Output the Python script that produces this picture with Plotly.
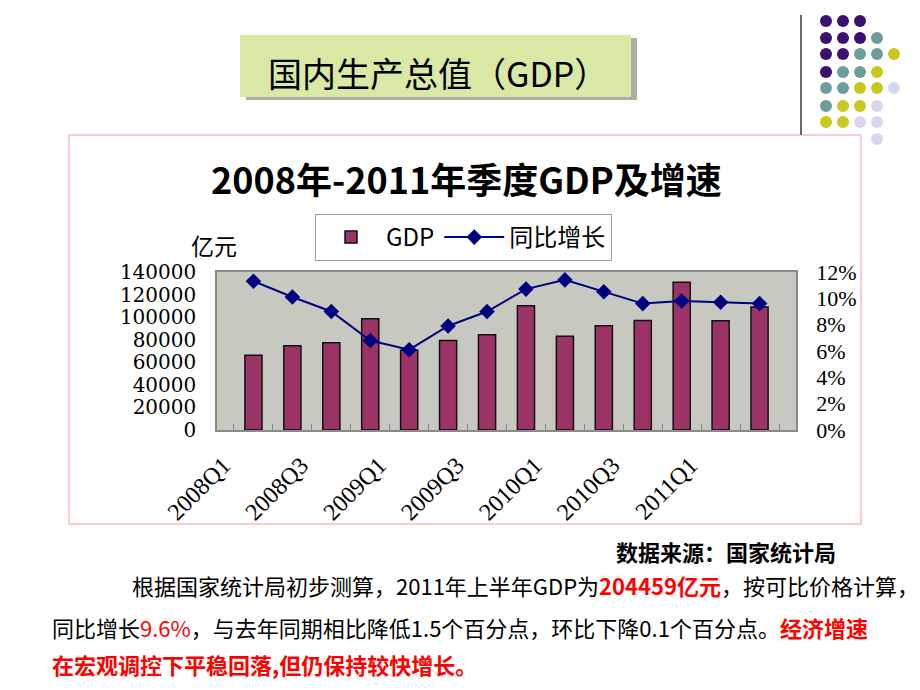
import plotly.graph_objects as go

# ---------------- data ----------------
quarters = ["2008Q1", "2008Q2", "2008Q3", "2008Q4",
            "2009Q1", "2009Q2", "2009Q3", "2009Q4",
            "2010Q1", "2010Q2", "2010Q3", "2010Q4",
            "2011Q1", "2011Q2"]
gdp = [66300, 74700, 77300, 98500,
       70700, 79200, 84300, 110000,
       83000, 92300, 97000, 131000,
       96900, 109000]                      # 亿元
growth = [11.3, 10.1, 9.0, 6.8,
          6.1, 7.9, 9.0, 10.7,
          11.4, 10.5, 9.6, 9.8,
          9.7, 9.6]                         # %
x_tick_text = ["2008Q1", "", "2008Q3", "", "2009Q1", "", "2009Q3", "",
               "2010Q1", "", "2010Q3", "", "2011Q1", ""]
left_ticks = [0, 20000, 40000, 60000, 80000, 100000, 120000, 140000]
right_ticks = [0, 2, 4, 6, 8, 10, 12]
right_tick_text = ["0%", "2%", "4%", "6%", "8%", "10%", "12%"]

# ---------------- layout helpers (page pixel -> paper) ----------------
W, H = 920, 690
OFF = 8                      # page body margin of the html page
L, R, T, B = 217, 796, 272, 430   # plot area in page pixels


def fx(px):
    return (px - L) / (R - L)


def fy(py):
    return (B - py) / (B - T)


CJK = "Noto Sans CJK SC"
SERIF = "Liberation Serif"

fig = go.Figure()
fig.add_trace(go.Bar(
    x=quarters, y=gdp, name="GDP",
    marker=dict(color="#9B3366", line=dict(color="#111111", width=1.5)),
    yaxis="y",
))
fig.add_trace(go.Scatter(
    x=quarters, y=growth, name="同比增长", mode="lines+markers",
    line=dict(color="#000080", width=2),
    marker=dict(symbol="diamond", size=12, color="#000080"),
    yaxis="y2",
))

shapes = []
# chart frame
shapes.append(dict(type="rect", xref="paper", yref="paper",
                   x0=fx(69), x1=fx(861), y0=fy(524), y1=fy(135),
                   line=dict(color="#F5BDBD", width=1.5), layer="below"))
# title box shadow and box
shapes.append(dict(type="rect", xref="paper", yref="paper",
                   x0=fx(246), x1=fx(637), y0=fy(100), y1=fy(38),
                   line=dict(width=0), fillcolor="#A8AFA6", layer="below"))
shapes.append(dict(type="rect", xref="paper", yref="paper",
                   x0=fx(240), x1=fx(631), y0=fy(97), y1=fy(35),
                   line=dict(width=0), fillcolor="#DAE8A6", layer="below"))
# decorative vertical line
shapes.append(dict(type="line", xref="paper", yref="paper",
                   x0=fx(801), x1=fx(801), y0=fy(135), y1=fy(15),
                   line=dict(color="#6A6A6A", width=2)))
# decorative dots
P, Tq, Y, Lv = "#3C1070", "#6E9E9C", "#C9C81E", "#D8D7EF"
dot_cols = [826, 843, 860, 877, 894]
dot_rows = [21, 38, 54, 72, 88, 106, 122, 139]
dot_pattern = [
    [P, P, P, None, None],
    [P, P, P, Tq, None],
    [P, P, Tq, Tq, Y],
    [P, Tq, Tq, Y, None],
    [Tq, Tq, Y, Y, Lv],
    [Tq, Y, Y, Lv, None],
    [Y, Y, Lv, Lv, None],
    [None, None, None, Lv, None],
]
rad = 6
for r, row in enumerate(dot_pattern):
    for c, col in enumerate(row):
        if col is None:
            continue
        cx, cy = dot_cols[c], dot_rows[r]
        shapes.append(dict(type="circle", xref="paper", yref="paper",
                           x0=fx(cx - rad), x1=fx(cx + rad),
                           y0=fy(cy + rad), y1=fy(cy - rad),
                           fillcolor=col, line=dict(width=0)))

RED = "#FF0000"
annotations = [
    dict(text="国内生产总值（GDP）", x=fx(438), y=fy(72), xref="paper", yref="paper",
         showarrow=False, font=dict(family=CJK, size=34, color="#000000"),
         xanchor="center", yanchor="middle"),
    dict(text="<b>2008年-2011年季度GDP及增速</b>", x=fx(466), y=fy(178),
         xref="paper", yref="paper", showarrow=False,
         font=dict(family=CJK, size=36, color="#000000"),
         xanchor="center", yanchor="middle"),
    dict(text="亿元", x=fx(214), y=fy(245), xref="paper", yref="paper",
         showarrow=False, font=dict(family=CJK, size=23, color="#000000"),
         xanchor="center", yanchor="middle"),
    dict(text="<b>数据来源：国家统计局</b>", x=fx(838), y=fy(551),
         xref="paper", yref="paper", showarrow=False,
         font=dict(family=CJK, size=22, color="#000000"),
         xanchor="right", yanchor="middle"),
    dict(text="根据国家统计局初步测算，2011年上半年GDP为"
              f"<span style='color:{RED}'><b>204459亿元</b></span>，按可比价格计算，",
         x=fx(130), y=fy(585), xref="paper", yref="paper", showarrow=False,
         font=dict(family=CJK, size=22, color="#000000"),
         xanchor="left", yanchor="middle"),
    dict(text=f"同比增长<span style='color:{RED}'>9.6%</span>，与去年同期相比降低1.5个百分点，"
              f"环比下降0.1个百分点。<span style='color:{RED}'><b>经济增速</b></span>",
         x=fx(50), y=fy(627), xref="paper", yref="paper", showarrow=False,
         font=dict(family=CJK, size=22, color="#000000"),
         xanchor="left", yanchor="middle"),
    dict(text=f"<span style='color:{RED}'><b>在宏观调控下平稳回落,但仍保持较快增长。</b></span>",
         x=fx(50), y=fy(664), xref="paper", yref="paper", showarrow=False,
         font=dict(family=CJK, size=22, color=RED),
         xanchor="left", yanchor="middle"),
]

fig.update_layout(
    width=W, height=H,
    margin=dict(l=L - OFF, r=W - (R - OFF), t=T - OFF, b=H - (B - OFF), pad=0,
                autoexpand=False),
    paper_bgcolor="#FFFFFF",
    plot_bgcolor="#C7C9C1",
    bargap=0.56,
    showlegend=True,
    legend=dict(orientation="h", x=fx(315), y=fy(214), xanchor="left", yanchor="top",
                bgcolor="#FFFFFF", bordercolor="#A0A0A0", borderwidth=1,
                font=dict(family=CJK, size=24, color="#000000"),
                itemwidth=60),
    xaxis=dict(type="category", tickmode="array", tickvals=quarters, ticktext=x_tick_text,
               tickangle=-45, ticks="inside", tickson="boundaries", ticklen=6,
               tickcolor="#8A8A8A", showline=True, linecolor="#8A8A8A", linewidth=1.5,
               mirror=True, showgrid=False, zeroline=False,
               tickfont=dict(family=SERIF, size=24, color="#000000"),
               ticklabelstandoff=10, ticklabelshift=-30),
    yaxis=dict(range=[0, 140000], tickmode="array", tickvals=left_ticks, tickformat="d",
               showgrid=False, zeroline=False, showline=True, linecolor="#8A8A8A",
               linewidth=1.5, ticks="", ticklabelstandoff=15,
               tickfont=dict(family="DejaVu Serif", size=20, color="#000000")),
    yaxis2=dict(range=[0, 12], overlaying="y", side="right", tickmode="array",
                tickvals=right_ticks, ticktext=right_tick_text, showgrid=False,
                zeroline=False, showline=True, linecolor="#8A8A8A", linewidth=1.5,
                ticks="", ticklabelstandoff=14,
                tickfont=dict(family=SERIF, size=22, color="#000000")),
    shapes=shapes,
    annotations=annotations,
)

fig.write_html("out.html")
